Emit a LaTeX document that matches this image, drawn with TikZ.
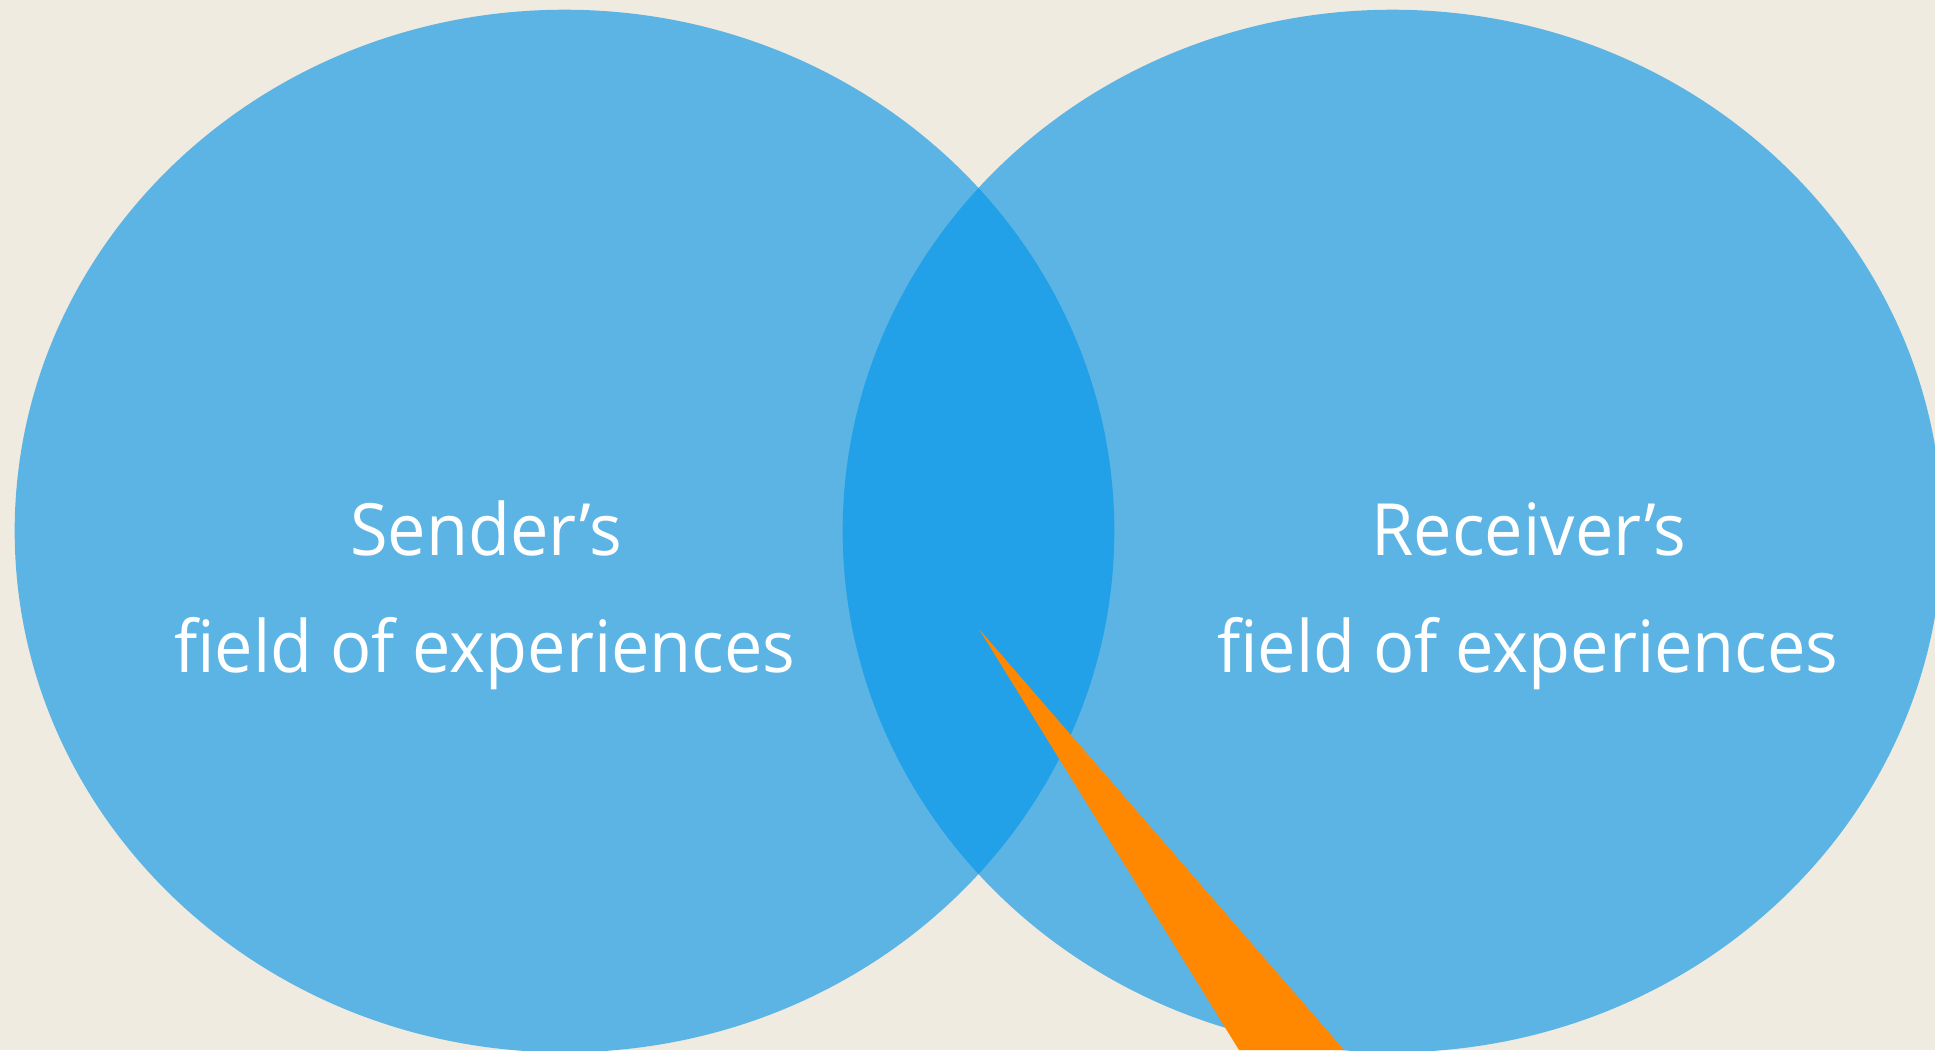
\documentclass[tikz,border=0pt]{standalone}
\usepackage{fontspec}
\setmainfont{Open Sans}
\definecolor{bg}{HTML}{EFEBE1}
\definecolor{circ}{HTML}{5CB4E4}
\definecolor{lens}{HTML}{23A1E8}
\definecolor{tip}{HTML}{FF8800}
\tikzset{
  lbl/.style={text=white, font=\fontsize{20.5pt}{24pt}\selectfont, anchor=base, inner sep=0pt},
}
\newcommand{\myrx}{5.495cm}
\newcommand{\myry}{5.21cm}
\begin{document}
\begin{tikzpicture}[x=0.01cm, y=-0.01cm]
\fill[bg] (0,0) rectangle (1935,1050);
\useasboundingbox (0,0) rectangle (1935,1050);
\clip (0,0) rectangle (1935,1050);
\fill[circ] (564.5,531) ellipse [x radius=\myrx, y radius=\myry];
\fill[circ] (1392.5,531) ellipse [x radius=\myrx, y radius=\myry];
\begin{scope}
  \clip (564.5,531) ellipse [x radius=\myrx, y radius=\myry];
  \fill[lens] (1392.5,531) ellipse [x radius=\myrx, y radius=\myry];
\end{scope}
\fill[tip] (979,629) -- (1239,1050) -- (1344,1050) -- cycle;
\node[lbl] (s1) at (486,555) {\scalebox{0.95}[1]{Sender’s}};
\node[lbl] (s2) at (485,672) {\scalebox{0.95}[1]{ﬁeld of experiences}};
\node[lbl] (r1) at (1529,555) {\scalebox{0.95}[1]{Receiver’s}};
\node[lbl] (r2) at (1528,672) {\scalebox{0.95}[1]{ﬁeld of experiences}};
\end{tikzpicture}
\end{document}
